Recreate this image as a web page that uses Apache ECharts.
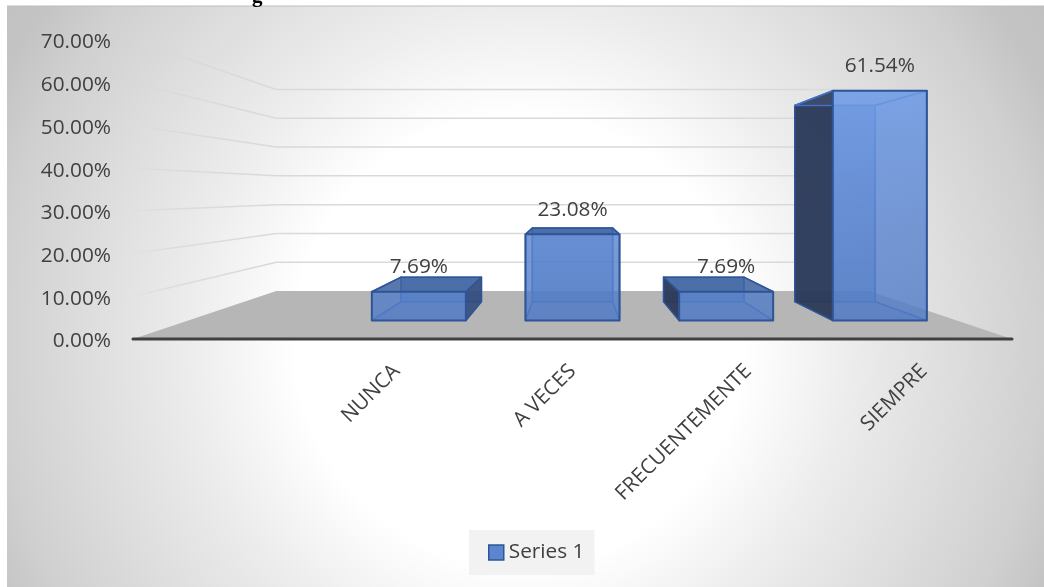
<!DOCTYPE html>
<html>
<head>
<meta charset="utf-8">
<style>html,body{margin:0;padding:0;background:#fff}#c{width:1044px;height:587px}</style>
<script src="https://cdn.jsdelivr.net/npm/echarts@6/dist/echarts.min.js"></script>
</head>
<body>
<div id="c"></div>
<script>
const categories = ['', 'NUNCA', 'A VECES', 'FRECUENTEMENTE', 'SIEMPRE'];
const seriesValues = [null, 7.69, 23.08, 7.69, 61.54];
const gridTicks = [10, 20, 30, 40, 50, 60, 70];
const seriesName = 'Series 1';

const FONT = '"Open Sans", sans-serif';
const TEXT = '#404040';
const FS = 20.8;
const chart = echarts.init(document.getElementById('c'), null, {renderer: 'canvas'});

// one-point perspective: wall depth and bar planes shrink towards a vanishing point
const VP_Y = 191.8;
const S_WALL = 0.674, S_FRONT = 0.874, S_BACK = 0.7465;
function vpX(cs) { return cs.x + cs.width / 2; }
function proj(cs, p, s) { const vx = vpX(cs); return [vx + (p[0] - vx) * s, VP_Y + (p[1] - VP_Y) * s]; }

function renderFloor(params, api) {
  const cs = params.coordSys;
  const y0 = api.coord([0, 0])[1];
  const L = [cs.x, y0], R = [cs.x + cs.width, y0];
  return {type: 'polygon', shape: {points: [L, proj(cs, L, S_WALL), proj(cs, R, S_WALL), R]},
    style: {fill: '#b6b6b6'}, silent: true};
}
function renderAxisLine(params, api) {
  const cs = params.coordSys;
  const y0 = api.coord([0, 0])[1];
  return {type: 'line', shape: {x1: cs.x, y1: y0, x2: cs.x + cs.width, y2: y0},
    style: {stroke: '#404040', lineWidth: 3, lineCap: 'round'}, silent: true};
}
function renderWall(params, api) {
  const cs = params.coordSys;
  const y = api.coord([0, api.value(0)])[1];
  const L = [cs.x, y], R = [cs.x + cs.width, y];
  const a = proj(cs, L, S_WALL), b = proj(cs, R, S_WALL);
  return {type: 'group', silent: true, children: [
    {type: 'line', shape: {x1: L[0], y1: L[1], x2: a[0], y2: a[1]},
      style: {lineWidth: 1.5, stroke: {type: 'linear', x: L[0], y: 0, x2: a[0], y2: 0, global: true,
        colorStops: [{offset: 0, color: 'rgba(217,217,217,0.15)'}, {offset: 0.25, color: 'rgba(217,217,217,0.8)'}, {offset: 1, color: '#d9d9d9'}]}}},
    {type: 'line', shape: {x1: a[0], y1: a[1], x2: b[0], y2: b[1]}, style: {lineWidth: 1.5, stroke: '#d9d9d9'}}
  ]};
}
function renderBar(params, api) {
  const v = api.value(1);
  if (v == null || isNaN(v)) return null;
  const cs = params.coordSys;
  const cx = api.coord([api.value(0), 0])[0];
  const y0 = api.coord([0, 0])[1], yv = api.coord([0, v])[1];
  const hw = api.size([1, 0])[0] * 0.612 / 2;
  const f = (x, y) => proj(cs, [x, y], S_FRONT), b = (x, y) => proj(cs, [x, y], S_BACK);
  const fbl = f(cx - hw, y0), fbr = f(cx + hw, y0), ftl = f(cx - hw, yv), ftr = f(cx + hw, yv);
  const bbl = b(cx - hw, y0), bbr = b(cx + hw, y0), btl = b(cx - hw, yv), btr = b(cx + hw, yv);
  const line = '#2f5597', inner = '#4272c6';
  const poly = (pts, fill, stroke, w) => ({type: 'polygon', shape: {points: pts},
    style: {fill: fill, stroke: stroke || null, lineWidth: w || 0, lineJoin: 'round'}});
  const dark = 'rgba(38,50,78,0.88)';
  const ghost = 'rgba(68,114,196,0.08)';
  const leftOuter = bbl[0] < fbl[0], rightOuter = bbr[0] > fbr[0];
  const topSeen = ftl[1] > VP_Y;
  const frontFill = {type: 'linear', x: 0, y: 90, x2: 0, y2: 320, global: true, colorStops: [
    {offset: 0, color: 'rgba(112,156,230,0.88)'}, {offset: 0.6, color: 'rgba(92,133,208,0.80)'}, {offset: 1, color: 'rgba(80,122,196,0.78)'}]};
  return {type: 'group', silent: true, children: [
    poly([bbl, bbr, btr, btl], 'rgba(68,114,196,0.55)', inner, 1.5),
    poly([fbl, fbr, bbr, bbl], 'rgba(68,114,196,0.30)', inner, 1.2),
    poly([bbl, fbl, ftl, btl], leftOuter ? dark : ghost, leftOuter ? line : inner, 1.5),
    poly([fbr, bbr, btr, ftr], rightOuter ? 'rgba(48,72,120,0.85)' : ghost, rightOuter ? line : inner, 1.5),
    poly([ftl, ftr, btr, btl], topSeen ? 'rgba(62,98,160,0.85)' : ghost, topSeen ? line : inner, 1.5),
    poly([fbl, fbr, ftr, ftl], frontFill, line, 2),
    {type: 'text', style: {text: v.toFixed(2) + '%', x: (ftl[0] + ftr[0]) / 2, y: ftl[1] - 24.5,
      align: 'center', verticalAlign: 'middle', fill: TEXT, font: FS + 'px ' + FONT}}
  ]};
}

chart.setOption({
  animation: false,
  graphic: [
    {type: 'rect', z: -10, silent: true, shape: {x: 7, y: 6, width: 1037, height: 581},
      style: {fill: {type: 'radial', x: 520, y: 340, r: 680, global: true, colorStops: [
        {offset: 0, color: '#ffffff'}, {offset: 0.33, color: '#ffffff'}, {offset: 0.44, color: '#f2f2f2'},
        {offset: 0.49, color: '#ececec'}, {offset: 0.55, color: '#e6e6e6'}, {offset: 0.77, color: '#d0d0d0'},
        {offset: 0.85, color: '#c4c4c4'}, {offset: 1, color: '#bcbcbc'}]}}},
    {type: 'line', z: -9, silent: true, shape: {x1: 7, y1: 6, x2: 1044, y2: 6}, style: {stroke: '#bdbdbd', lineWidth: 1}},
    {type: 'text', z: -9, silent: true, style: {text: 'g', x: 252, y: -14, fill: '#000',
      font: 'bold 21px "Liberation Serif", serif'}}
  ],
  grid: {left: 133, right: 32, top: 40, bottom: 248, containLabel: false},
  xAxis: {type: 'category', data: categories, boundaryGap: true,
    axisLine: {show: false}, axisTick: {show: false}, splitLine: {show: false},
    axisLabel: {interval: 0, rotate: 45, margin: 29, color: TEXT, fontSize: FS, fontFamily: FONT}},
  yAxis: {type: 'value', min: 0, max: 70, interval: 10,
    axisLine: {show: false}, axisTick: {show: false}, splitLine: {show: false},
    axisLabel: {margin: 22, color: TEXT, fontSize: FS, fontFamily: FONT, verticalAlign: 'top', lineHeight: 5, formatter: v => v.toFixed(2) + '%'}},
  legend: {data: [seriesName], left: 469, top: 530, padding: [8, 10, 8, 19],
    backgroundColor: '#f2f2f2', icon: 'rect', itemWidth: 15, itemHeight: 15, itemGap: 6, selectedMode: false,
    textStyle: {color: TEXT, fontSize: FS, fontFamily: FONT, lineHeight: 29},
    itemStyle: {color: '#5b86cf', borderColor: '#2f5597', borderWidth: 1.5}},
  series: [
    {type: 'custom', name: 'floor', z: 1, coordinateSystem: 'cartesian2d', renderItem: renderFloor, data: [[0, 0]], encode: {x: 0, y: 1}, silent: true},
    {type: 'custom', name: 'walls', z: 1, coordinateSystem: 'cartesian2d', renderItem: renderWall, data: gridTicks.map(t => [t]), encode: {y: 0}, silent: true},
    {type: 'custom', name: 'axis', z: 2, coordinateSystem: 'cartesian2d', renderItem: renderAxisLine, data: [[0, 0]], encode: {x: 0, y: 1}, silent: true},
    {type: 'custom', name: seriesName, z: 3, coordinateSystem: 'cartesian2d', renderItem: renderBar,
      itemStyle: {color: '#5b86cf'},
      data: seriesValues.map((v, i) => [i, v]), encode: {x: 0, y: 1}}
  ]
});
</script>
</body>
</html>
